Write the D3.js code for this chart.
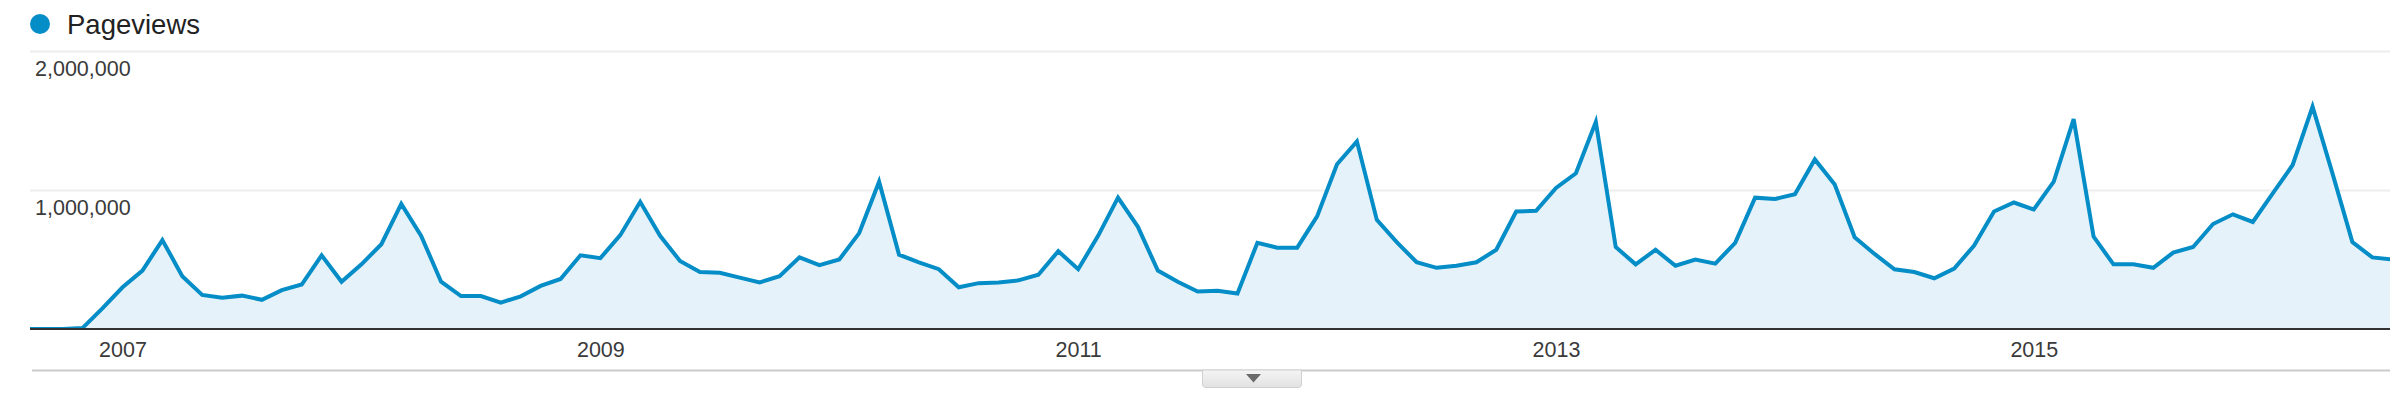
<!DOCTYPE html>
<html>
<head>
<meta charset="utf-8">
<script src="https://cdn.jsdelivr.net/npm/d3@7"></script>
<style>
  html, body { margin: 0; padding: 0; background: #fff; }
  svg { display: block; font-family: "Liberation Sans", Arial, sans-serif; }
</style>
</head>
<body>
<svg id="chart" width="2390" height="406"></svg>
<script>
// ---------- DATA ----------
const seriesName = "Pageviews";
const firstMonth = new Date(2006, 7, 1);   // Aug 2006
const lastMonth = new Date(2016, 6, 1);    // Jul 2016
const months = d3.timeMonth.range(firstMonth, d3.timeMonth.offset(lastMonth, 1));

const pageviews = [
  // 2006 (Aug-Dec)
  0, 0, 0, 8000, 150000,
  // 2007
  300000, 420000, 640000, 380000, 245000, 225000, 240000, 210000, 280000, 320000, 530000, 340000,
  // 2008
  465000, 610000, 900000, 670000, 340000, 237000, 237000, 190000, 235000, 310000, 360000, 530000,
  // 2009
  510000, 675000, 915000, 670000, 490000, 410000, 405000, 370000, 335000, 380000, 515000, 460000,
  // 2010
  500000, 690000, 1060000, 535000, 480000, 430000, 300000, 330000, 335000, 350000, 390000, 560000,
  // 2011
  430000, 670000, 945000, 735000, 420000, 340000, 270000, 275000, 255000, 620000, 585000, 585000,
  // 2012
  810000, 1185000, 1350000, 785000, 625000, 480000, 440000, 455000, 480000, 570000, 845000, 850000,
  // 2013
  1015000, 1120000, 1490000, 590000, 465000, 570000, 455000, 500000, 470000, 620000, 945000, 935000,
  // 2014
  970000, 1220000, 1040000, 660000, 540000, 430000, 410000, 365000, 435000, 600000, 845000, 910000,
  // 2015
  860000, 1060000, 1510000, 665000, 465000, 465000, 440000, 550000, 590000, 755000, 825000, 770000,
  // 2016 (Jan-Jul)
  975000, 1180000, 1600000, 1120000, 625000, 515000, 500000
];

const yTickValues = [1000000, 2000000];
const xTickYears = ["2007", "2009", "2011", "2013", "2015"];

// ---------- LAYOUT ----------
const W = 2390, H = 406;
const plotLeft = 30, plotRight = 2390;
const svg = d3.select("#chart");

const data = months.map((m, i) => ({ month: m, value: pageviews[i], i }));

const x = d3.scaleLinear().domain([0, data.length - 1]).range([23, 2392.2]);
const y = d3.scaleLinear().domain([0, 2000000]).range([329, 51]);

// clip path for plot area
svg.append("defs").append("clipPath").attr("id", "plotClip")
  .append("rect").attr("x", plotLeft).attr("y", 0).attr("width", plotRight - plotLeft).attr("height", y(0) + 1);

// gridlines (including top)
const gridAxis = d3.axisRight(y).tickValues(yTickValues).tickSize(plotRight - plotLeft).tickFormat("");
const grid = svg.append("g").attr("transform", `translate(${plotLeft},0)`).call(gridAxis);
grid.select(".domain").remove();
grid.selectAll(".tick line").attr("stroke", "#ededed").attr("stroke-width", 2);

// area & line
const area = d3.area().x(d => x(d.i)).y0(y(0)).y1(d => y(d.value));
const line = d3.line().x(d => x(d.i)).y(d => y(d.value));

const plot = svg.append("g").attr("clip-path", "url(#plotClip)");
plot.append("path").datum(data).attr("d", area).attr("fill", "#e6f2f9");
plot.append("path").datum(data).attr("d", line)
  .attr("fill", "none").attr("stroke", "#058dc7").attr("stroke-width", 4)
  .attr("stroke-linejoin", "miter");

// baseline
svg.append("line").attr("x1", plotLeft).attr("x2", plotRight)
  .attr("y1", y(0)).attr("y2", y(0)).attr("stroke", "#333").attr("stroke-width", 2);

// y labels (inside plot, under gridlines)
const fmt = d3.format(",");
svg.append("g").selectAll("text").data(yTickValues).join("text")
  .attr("x", 35).attr("y", d => y(d) + 25)
  .attr("font-size", 21.5).attr("fill", "#3a3a3a")
  .text(d => fmt(d));

// x axis year labels
const yearIndex = yr => data.findIndex(d => d.month.getFullYear() === +yr && d.month.getMonth() === 0);
const xAxis = d3.axisBottom(x).tickValues(xTickYears.map(yearIndex))
  .tickSize(0).tickPadding(0).tickFormat((d, k) => xTickYears[k]);
const xg = svg.append("g").attr("transform", `translate(0,${y(0)})`).call(xAxis);
xg.select(".domain").remove();
xg.selectAll("text").attr("dy", null).attr("y", 28).attr("font-size", 21.5)
  .attr("fill", "#3a3a3a").attr("font-family", "Liberation Sans, Arial, sans-serif");

// bottom separator line & toggle button
svg.append("line").attr("x1", 32).attr("x2", W).attr("y1", 370.5).attr("y2", 370.5)
  .attr("stroke", "#cbcbcb").attr("stroke-width", 2);
const grad = svg.select("defs").append("linearGradient").attr("id", "btnGrad")
  .attr("x1", 0).attr("y1", 0).attr("x2", 0).attr("y2", 1);
grad.append("stop").attr("offset", "0%").attr("stop-color", "#f4f4f4");
grad.append("stop").attr("offset", "100%").attr("stop-color", "#e2e2e2");
svg.append("path")
  .attr("d", "M1202.5,370 L1301.5,370 L1301.5,384 Q1301.5,387.5 1298,387.5 L1206,387.5 Q1202.5,387.5 1202.5,384 Z")
  .attr("fill", "url(#btnGrad)").attr("stroke", "#d0d0d0").attr("stroke-width", 1);
svg.append("path").attr("d", "M1246,374 L1261,374 L1253.5,382.5 Z").attr("fill", "#6a6a6a");

// legend
svg.append("circle").attr("cx", 40).attr("cy", 24).attr("r", 10).attr("fill", "#058dc7");
svg.append("text").attr("x", 67).attr("y", 34).attr("font-size", 27.5).attr("fill", "#222").text(seriesName);
</script>
</body>
</html>
